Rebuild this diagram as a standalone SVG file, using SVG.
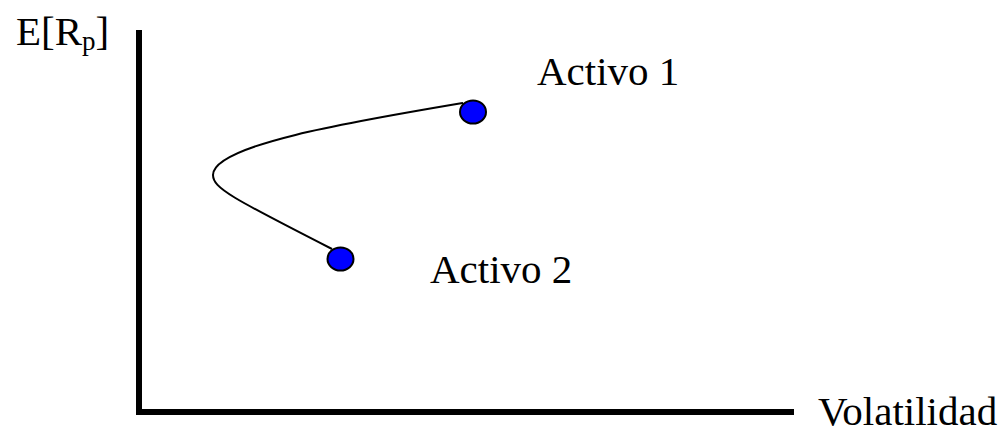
<svg xmlns="http://www.w3.org/2000/svg" width="1002" height="433" viewBox="0 0 1002 433">
<style>
text{font-family:"Liberation Serif","Times New Roman",serif;fill:#000}
.lbl{font-size:41px}
.axis{stroke:#000;stroke-width:6;fill:none}
.pt{fill:#0000ff;stroke:#000;stroke-width:2}
</style>
<rect width="1002" height="433" fill="#fff"/>
<g id="axes">
<line class="axis" x1="139" y1="30" x2="139" y2="415"/>
<line class="axis" x1="136" y1="412" x2="794" y2="412"/>
</g>
<g id="connectors">
<path d="M463,103 C350,122 213,145 213,175 C213,188 232,198 332,249" fill="none" stroke="#000" stroke-width="2"/>
</g>
<g id="activo1">
<ellipse class="pt" cx="473" cy="112" rx="13" ry="11.5"/>
<text class="lbl" x="537" y="85">Activo 1</text>
</g>
<g id="activo2">
<ellipse class="pt" cx="340.5" cy="259" rx="13" ry="11.5"/>
<text class="lbl" x="430" y="283">Activo 2</text>
</g>
<g id="ylabel">
<text class="lbl" x="16" y="45">E[R<tspan font-size="27" dy="5">p</tspan><tspan dy="-5">]</tspan></text>
</g>
<g id="xlabel">
<text class="lbl" x="818" y="425">Volatilidad</text>
</g>
</svg>
